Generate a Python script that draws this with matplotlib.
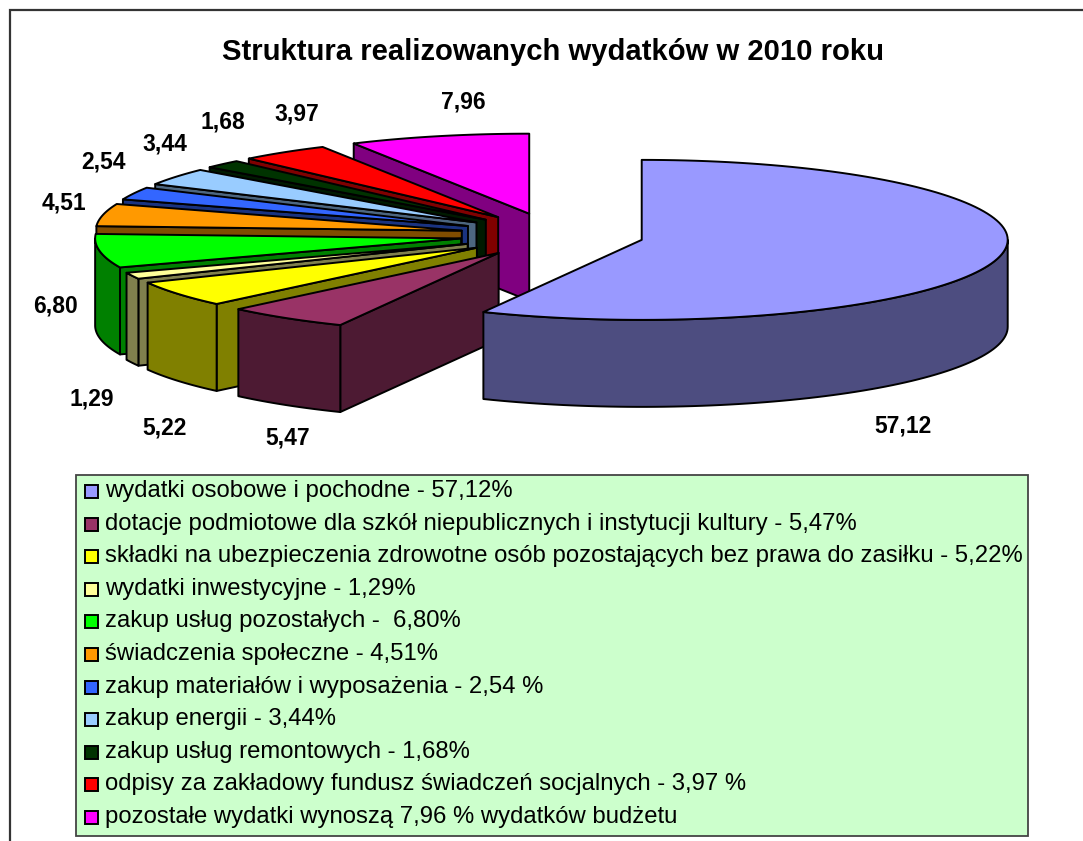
# Structure of budget spending in 2010, drawn as an exploded 3D pie

import numpy as np
import matplotlib
matplotlib.use("Agg")
import matplotlib.pyplot as plt
from matplotlib.patches import Polygon, Rectangle

values = [57.12, 5.47, 5.22, 1.29, 6.80, 4.51, 2.54, 3.44, 1.68, 3.97, 7.96]
value_labels = ["57,12", "5,47", "5,22", "1,29", "6,80", "4,51", "2,54", "3,44", "1,68", "3,97", "7,96"]
colors = ["#9999FF", "#993366", "#FFFF00", "#FFFF99", "#00FF00", "#FF9900",
          "#3366FF", "#99CCFF", "#003300", "#FF0000", "#FF00FF"]
legend_labels = [
    "wydatki osobowe i pochodne - 57,12%",
    "dotacje podmiotowe dla szkół niepublicznych i instytucji kultury - 5,47%",
    "składki na ubezpieczenia zdrowotne osób pozostających bez prawa do zasiłku - 5,22%",
    "wydatki inwestycyjne - 1,29%",
    "zakup usług pozostałych -  6,80%",
    "świadczenia społeczne - 4,51%",
    "zakup materiałów i wyposażenia - 2,54 %",
    "zakup energii - 3,44%",
    "zakup usług remontowych - 1,68%",
    "odpisy za zakładowy fundusz świadczeń socjalnych - 3,97 %",
    "pozostałe wydatki wynoszą 7,96 % wydatków budżetu",
]
title = "Struktura realizowanych wydatków w 2010 roku"

# pixel layout
label_pos = [(903, 426), (288, 438), (165, 428), (92, 399), (55, 306), (64, 203),
             (104, 162), (165, 144), (223, 122), (297, 114), (463, 102)]
cx, cy = 552, 235
rx, ry = 366, 80
depth = 87
explode_x, explode_y = 92, 22

plt.rcParams["font.family"] = ["Liberation Sans", "DejaVu Sans"]

fig = plt.figure(figsize=(10.83, 8.41), dpi=100)
ax = fig.add_axes([0, 0, 1, 1])
ax.set_xlim(0, 1083)
ax.set_ylim(841, 0)
ax.axis("off")


def darker(c):
    r, g, b = matplotlib.colors.to_rgb(c)
    return (r * 0.5, g * 0.5, b * 0.5)


def rim_point(x0, y0, deg):
    t = np.radians(deg)
    return x0 + rx * np.sin(t), y0 - ry * np.cos(t)


def draw_slice(start, end, color):
    mid = np.radians((start + end) / 2)
    x0 = cx + explode_x * np.sin(mid)
    y0 = cy - explode_y * np.cos(mid)
    side = darker(color)
    sx, sy = rim_point(x0, y0, start)
    ex, ey = rim_point(x0, y0, end)
    style = dict(edgecolor="black", linewidth=1.4, joinstyle="round")

    # flat walls, only the ones facing the viewer
    if ex > x0 + 0.5:
        ax.add_patch(Polygon([(x0, y0), (ex, ey), (ex, ey + depth), (x0, y0 + depth)], facecolor=side, **style))
    if sx < x0 - 0.5:
        ax.add_patch(Polygon([(x0, y0), (sx, sy), (sx, sy + depth), (x0, y0 + depth)], facecolor=side, **style))

    # curved wall, lower half of the ellipse only
    a = max(start, 90)
    b = min(end, 270)
    if b > a:
        t = np.linspace(a, b, 80)
        xs, ys = rim_point(x0, y0, t)
        pts = list(zip(xs, ys)) + list(zip(xs[::-1], ys[::-1] + depth))
        ax.add_patch(Polygon(pts, facecolor=side, **style))

    t = np.linspace(start, end, 120)
    xs, ys = rim_point(x0, y0, t)
    ax.add_patch(Polygon([(x0, y0)] + list(zip(xs, ys)), facecolor=color, **style))


edges = np.concatenate([[0], np.cumsum(values)]) / sum(values) * 360

# back to front: the small slices from the last one down, the big slice on top
for i in list(range(len(values) - 1, 0, -1)) + [0]:
    draw_slice(edges[i], edges[i + 1], colors[i])

ax.text(553, 52, title, ha="center", va="center", fontsize=21.1, fontweight="bold", color="black")

for lab, (x, y) in zip(value_labels, label_pos):
    ax.text(x, y, lab, ha="center", va="center", fontsize=16.5, fontweight="bold", color="black")

# outer frame, open at the right and at the bottom
ax.plot([10, 10, 1083], [841, 10, 10], color="#333333", linewidth=1.6, solid_joinstyle="miter")

# legend box
ax.add_patch(Rectangle((75.5, 474.5), 952, 361, facecolor="#CCFFCC", edgecolor="#444444", linewidth=1.3))
for i, lab in enumerate(legend_labels):
    y = 491 + i * 32.6
    ax.add_patch(Rectangle((85, y - 6), 13, 13, facecolor=colors[i], edgecolor="black", linewidth=1.4))
    ax.text(105, y, lab, ha="left", va="center", fontsize=17.2, color="black")

fig.savefig("out.png", dpi=100)
